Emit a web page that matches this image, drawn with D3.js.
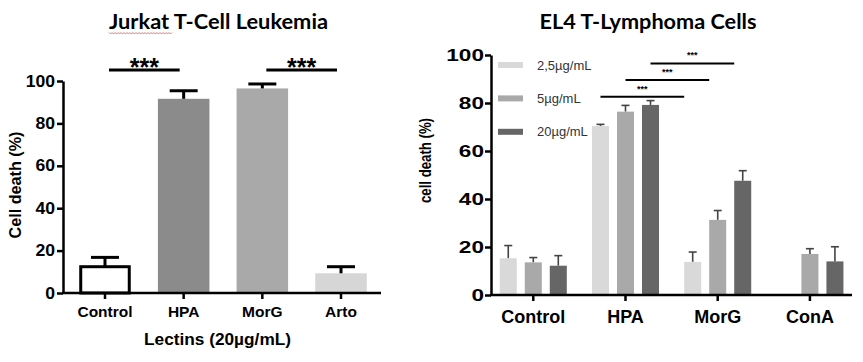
<!DOCTYPE html>
<html>
<head>
<meta charset="utf-8">
<script src="https://cdn.jsdelivr.net/npm/d3@7"></script>
<style>
	body { margin: 0; background: #fff; }
	svg { display: block; }
	text { font-family: "Liberation Sans", Arial, sans-serif; font-weight: bold; fill: #000; }
	.title { font-family: Lato, "Open Sans", sans-serif; font-weight: 700; font-size: 20px; }
	.legend text { font-weight: normal; font-size: 13px; fill: #333; }
</style>
</head>
<body>
<div id="chart"></div>
<script>
// left panel : Jurkat
var leftCategories = ["Control", "HPA", "MorG", "Arto"];
var leftValues = [12.4, 91.6, 96.5, 9.3];
var leftErrors = [4.4, 3.8, 2.1, 3.1];
var leftPairs = [["Control", "HPA"], ["MorG", "Arto"]];

// right panel : EL4
var rightCategories = ["Control", "HPA", "MorG", "ConA"];
var rightSeries = ["2,5µg/mL", "5µg/mL", "20µg/mL"];
var rightValues = [
	[15.3, 13.6, 12.2],
	[70.4, 76.4, 79.2],
	[13.8, 31.3, 47.6],
	[null, 17.1, 14.0]
];
var rightErrors = [
	[5.3, 2.0, 4.2],
	[0.7, 2.6, 1.8],
	[4.1, 3.9, 4.2],
	[null, 2.2, 6.1]
];
var rightSigLevels = [82.6, 89.6, 96.5];

var yTicks = [0, 20, 40, 60, 80, 100];

var leftColors = ["#ffffff", "#8b8b8b", "#a9a9a9", "#d6d6d6"];
var rightColors = ["#d9d9d9", "#a9a9a9", "#666666"];

var svg = d3.select("#chart").append("svg")
	.attr("width", 863)
	.attr("height", 362);

//----- left chart -----
var xL = d3.scaleBand()
	.domain(leftCategories)
	.range([63.5, 382.5])
	.paddingInner(0.345)
	.paddingOuter(0.2);

var yL = d3.scaleLinear().domain([0, 100]).range([293, 81]);

var left = svg.append("g");

left.append("text")
	.attr("class", "title")
	.attr("x", 218.5)
	.attr("y", 29)
	.attr("text-anchor", "middle")
	.attr("textLength", 219)
	.attr("lengthAdjust", "spacingAndGlyphs")
	.text("Jurkat T-Cell Leukemia");

// spell-check squiggle under "Jurkat"
var squiggle = [];
for (var sq = 109; sq <= 172; sq += 1.5)
{
	squiggle.push([sq, 33 + ((Math.round((sq - 109) / 1.5) % 2) ? 1 : -0.5)]);
}
left.append("path")
	.attr("d", d3.line()(squiggle))
	.attr("fill", "none")
	.attr("stroke", "#e36b6b")
	.attr("stroke-width", 0.9);

left.selectAll(".bar")
	.data(leftCategories)
	.enter()
		.append("rect")
			.attr("x", function(d) { return xL(d) + (d == "Control" ? 1.5 : 0); })
			.attr("y", function(d, i) { return yL(leftValues[i]); })
			.attr("width", function(d) { return xL.bandwidth() - (d == "Control" ? 3 : 0); })
			.attr("height", function(d, i) { return yL(0) - yL(leftValues[i]); })
			.attr("fill", function(d, i) { return leftColors[i]; })
			.attr("stroke", function(d) { return d == "Control" ? "#000" : "none"; })
			.attr("stroke-width", 3);

var capL = 14;
leftCategories.forEach(function(c, i)
{
	var cx = xL(c) + xL.bandwidth() / 2;
	var top = yL(leftValues[i] + leftErrors[i]);
	left.append("line")
		.attr("x1", cx).attr("x2", cx)
		.attr("y1", yL(leftValues[i])).attr("y2", top)
		.attr("stroke", "#000").attr("stroke-width", 3);
	left.append("line")
		.attr("x1", cx - capL).attr("x2", cx + capL)
		.attr("y1", top).attr("y2", top)
		.attr("stroke", "#000").attr("stroke-width", 3);
});

var sl = 1.1;
left.append("g")
	.attr("transform", "translate(63,0)")
	.call(d3.axisLeft(yL).tickValues(yTicks).tickSize(6).tickSizeOuter(0))
	.call(function(g)
	{
		g.select(".domain").attr("stroke-width", 2.5);
		g.selectAll(".tick line").attr("stroke-width", 2.5);
		g.selectAll(".tick text")
			.attr("font-size", 16)
			.attr("font-family", null)
			.attr("x", -8 / sl)
			.attr("transform", "scale(" + sl + ",1)");
	});

left.append("g")
	.attr("transform", "translate(0,293)")
	.call(d3.axisBottom(xL).tickSize(6).tickSizeOuter(0).tickPadding(7))
	.call(function(g)
	{
		g.select(".domain").remove();
		g.selectAll(".tick line").attr("stroke-width", 2.5);
		g.selectAll(".tick text").attr("font-size", 15.5).attr("font-family", null);
	});

left.append("line")
	.attr("x1", 62).attr("x2", 381)
	.attr("y1", 293).attr("y2", 293)
	.attr("stroke", "#000").attr("stroke-width", 2.5);

left.append("text")
	.attr("transform", "translate(21,185) rotate(-90)")
	.attr("text-anchor", "middle")
	.attr("font-size", 16)
	.attr("textLength", 107)
	.attr("lengthAdjust", "spacingAndGlyphs")
	.text("Cell death (%)");

left.append("text")
	.attr("x", 217.5)
	.attr("y", 345)
	.attr("text-anchor", "middle")
	.attr("font-size", 16.3)
	.attr("textLength", 147)
	.attr("lengthAdjust", "spacingAndGlyphs")
	.text("Lectins (20µg/mL)");

leftPairs.forEach(function(p)
{
	var x1 = xL(p[0]) + xL.bandwidth() / 2 + 4;
	var x2 = xL(p[1]) + xL.bandwidth() / 2 - 4;
	var ly = yL(105.2);
	left.append("line")
		.attr("x1", x1).attr("x2", x2)
		.attr("y1", ly).attr("y2", ly)
		.attr("stroke", "#000").attr("stroke-width", 3);
	left.append("text")
		.attr("x", (x1 + x2) / 2)
		.attr("y", ly + 6)
		.attr("text-anchor", "middle")
		.attr("font-size", 25)
		.text("***");
});

//----- right chart -----
var x0 = d3.scaleBand()
	.domain(rightCategories)
	.range([491, 852.2])
	.paddingInner(0.273)
	.paddingOuter(0.095);

var x1 = d3.scaleBand()
	.domain(d3.range(rightSeries.length))
	.range([0, x0.bandwidth()])
	.paddingInner(0.32);

var yR = d3.scaleLinear().domain([0, 100]).range([295, 55]);

var right = svg.append("g");

right.append("text")
	.attr("class", "title")
	.attr("x", 648)
	.attr("y", 29)
	.attr("text-anchor", "middle")
	.attr("textLength", 217)
	.attr("lengthAdjust", "spacingAndGlyphs")
	.text("EL4 T-Lymphoma Cells");

var groups = right.selectAll(".group")
	.data(rightCategories)
	.enter()
		.append("g")
			.attr("transform", function(d) { return "translate(" + x0(d) + ",0)"; });

groups.each(function(c, ci)
{
	var g = d3.select(this);
	rightSeries.forEach(function(s, si)
	{
		var v = rightValues[ci][si];
		if (v === null) return;
		var bx = x1(si);
		var cx = bx + x1.bandwidth() / 2;
		var top = yR(v + rightErrors[ci][si]);
		g.append("line")
			.attr("x1", cx).attr("x2", cx)
			.attr("y1", yR(v)).attr("y2", top)
			.attr("stroke", "#444").attr("stroke-width", 1.6);
		g.append("line")
			.attr("x1", cx - 4).attr("x2", cx + 4)
			.attr("y1", top).attr("y2", top)
			.attr("stroke", "#444").attr("stroke-width", 1.6);
		g.append("rect")
			.attr("x", bx)
			.attr("y", yR(v))
			.attr("width", x1.bandwidth())
			.attr("height", yR(0) - yR(v))
			.attr("fill", rightColors[si]);
	});
});

var sx = 1.33;
right.append("g")
	.attr("transform", "translate(491,0)")
	.call(d3.axisLeft(yR).tickValues(yTicks).tickSize(6).tickSizeOuter(0))
	.call(function(g)
	{
		g.select(".domain").attr("stroke-width", 2.5);
		g.selectAll(".tick line").attr("stroke-width", 2.5);
		g.selectAll(".tick text")
			.attr("font-size", 17)
			.attr("font-family", null)
			.attr("x", -7 / sx)
			.attr("transform", "scale(" + sx + ",1)");
	});

right.append("g")
	.attr("transform", "translate(0,295)")
	.call(d3.axisBottom(x0).tickSize(6).tickSizeOuter(0).tickPadding(9))
	.call(function(g)
	{
		g.select(".domain").remove();
		g.selectAll(".tick line").attr("stroke-width", 2.5);
		g.selectAll(".tick text").attr("font-size", 18).attr("font-family", null);
	});

right.append("line")
	.attr("x1", 490).attr("x2", 852)
	.attr("y1", 295).attr("y2", 295)
	.attr("stroke", "#000").attr("stroke-width", 2.5);

right.append("text")
	.attr("transform", "translate(431,160.5) rotate(-90) scale(1,1.2)")
	.attr("text-anchor", "middle")
	.attr("font-size", 13.5)
	.attr("textLength", 85)
	.attr("lengthAdjust", "spacingAndGlyphs")
	.text("cell death (%)");

// legend
var legend = right.append("g").attr("class", "legend");
rightSeries.forEach(function(s, i)
{
	var ly = 65 + i * 33.4;
	legend.append("rect")
		.attr("x", 498).attr("y", ly - 3)
		.attr("width", 25).attr("height", 6)
		.attr("fill", rightColors[i]);
	legend.append("text")
		.attr("x", 537).attr("y", ly + 4.5)
		.text(s);
});

// significance HPA vs MorG per concentration
rightSeries.forEach(function(s, i)
{
	var xa = x0("HPA") + x1(i) + x1.bandwidth() / 2;
	var xb = x0("MorG") + x1(i);
	var ly = yR(rightSigLevels[i]);
	right.append("line")
		.attr("x1", xa).attr("x2", xb)
		.attr("y1", ly).attr("y2", ly)
		.attr("stroke", "#000").attr("stroke-width", 2);
	right.append("text")
		.attr("x", (xa + xb) / 2)
		.attr("y", ly - 5)
		.attr("text-anchor", "middle")
		.attr("font-size", 9)
		.text("***");
});
</script>
</body>
</html>
